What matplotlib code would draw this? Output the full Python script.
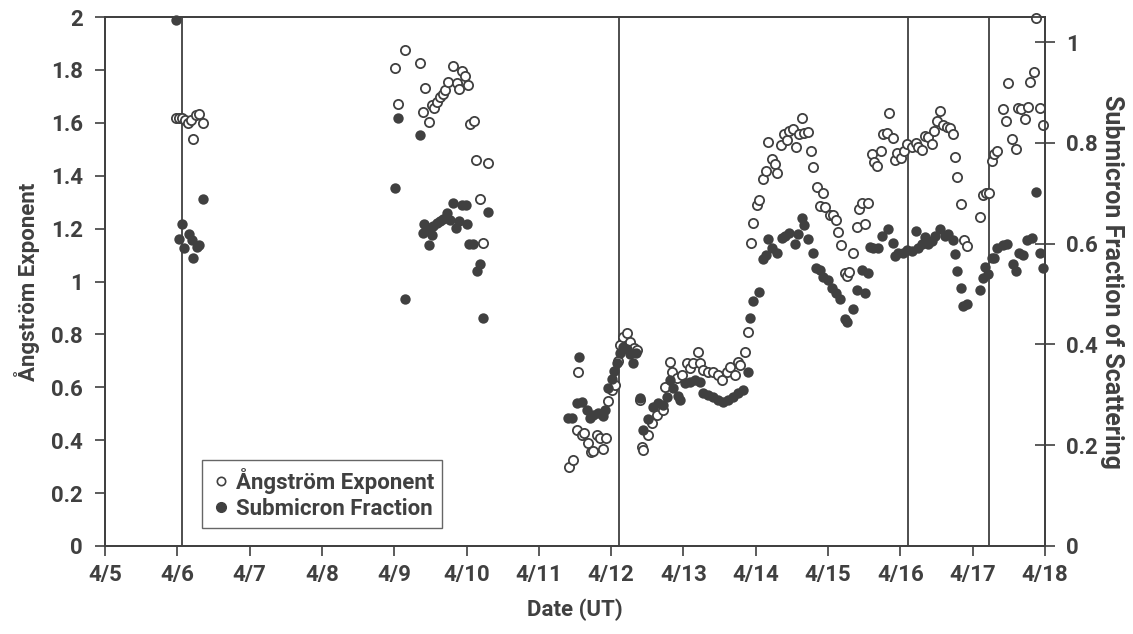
import matplotlib
matplotlib.use('Agg')
import matplotlib.pyplot as plt
from matplotlib.lines import Line2D

INK = '#404040'

# Angstrom exponent (left axis); time is day of April (UT)
ang_day = [5.98, 6.02, 6.06, 6.11, 6.15, 6.19, 6.22, 6.26, 6.30, 6.36,
           9.01, 9.05, 9.15, 9.36, 9.40, 9.43, 9.48, 9.52, 9.55, 9.59,
           9.63, 9.67, 9.70, 9.74, 9.81, 9.87, 9.90, 9.94, 9.98, 10.02,
           10.05, 10.10, 10.13, 10.19, 10.23, 10.30,
           11.42, 11.47, 11.53, 11.54, 11.60, 11.62, 11.68, 11.72, 11.75, 11.80,
           11.85, 11.89, 11.93, 11.96, 12.01, 12.05, 12.09, 12.12, 12.16, 12.22,
           12.26, 12.32, 12.36,
           12.40, 12.43, 12.44, 12.51, 12.56, 12.63, 12.72, 12.74, 12.81, 12.84,
           12.91, 12.98, 13.05, 13.09, 13.13, 13.20, 13.23, 13.27, 13.34, 13.41,
           13.48, 13.53, 13.60, 13.64, 13.71, 13.75, 13.78, 13.85, 13.89,
           13.93, 13.96, 14.02, 14.04, 14.10, 14.14, 14.17, 14.22, 14.27, 14.29,
           14.35, 14.39, 14.43, 14.46, 14.51, 14.56, 14.60, 14.64, 14.67, 14.72,
           14.76, 14.79, 14.85, 14.89, 14.93, 14.96, 15.03, 15.07, 15.11, 15.14,
           15.18, 15.23, 15.26, 15.29, 15.34, 15.40, 15.43, 15.47, 15.51, 15.55,
           15.61, 15.63, 15.68, 15.73, 15.76, 15.81, 15.84, 15.90, 15.93, 15.95,
           16.01, 16.05, 16.09, 16.16, 16.22, 16.24, 16.30, 16.34, 16.38, 16.44,
           16.46, 16.51, 16.55, 16.59, 16.64, 16.69, 16.73, 16.75, 16.78, 16.84,
           16.88, 16.92, 17.10, 17.14, 17.18, 17.23, 17.27, 17.29, 17.34, 17.42,
           17.46, 17.49, 17.54, 17.60, 17.63, 17.67, 17.72, 17.76, 17.79, 17.85,
           17.88, 17.93, 17.97]
ang_val = [1.62, 1.62, 1.62, 1.61, 1.60, 1.61, 1.54, 1.63, 1.635, 1.60,
           1.807, 1.671, 1.875, 1.826, 1.641, 1.732, 1.603, 1.667, 1.656, 1.679,
           1.698, 1.709, 1.724, 1.754, 1.815, 1.750, 1.728, 1.796, 1.777, 1.743,
           1.595, 1.607, 1.459, 1.312, 1.146, 1.448,
           0.299, 0.325, 0.439, 0.658, 0.420, 0.427, 0.390, 0.355, 0.359, 0.420,
           0.408, 0.367, 0.408, 0.548, 0.590, 0.610, 0.700, 0.760, 0.790, 0.805,
           0.770, 0.750, 0.740,
           0.552, 0.374, 0.363, 0.420, 0.465, 0.495, 0.514, 0.601, 0.696, 0.658,
           0.635, 0.646, 0.692, 0.673, 0.692, 0.733, 0.692, 0.665, 0.658, 0.658,
           0.646, 0.628, 0.658, 0.677, 0.646, 0.696, 0.684, 0.733, 0.809,
           1.146, 1.221, 1.289, 1.308, 1.388, 1.418, 1.527, 1.463, 1.444, 1.410,
           1.516, 1.558, 1.535, 1.569, 1.577, 1.508, 1.558, 1.618, 1.561, 1.565,
           1.493, 1.433, 1.357, 1.285, 1.335, 1.282, 1.251, 1.251, 1.232, 1.187,
           1.138, 1.032, 1.021, 1.036, 1.108, 1.206, 1.274, 1.297, 1.217, 1.297,
           1.482, 1.452, 1.437, 1.493, 1.558, 1.561, 1.637, 1.543, 1.459, 1.486,
           1.467, 1.493, 1.520, 1.508, 1.524, 1.508, 1.497, 1.550, 1.546, 1.520,
           1.569, 1.607, 1.645, 1.592, 1.584, 1.580, 1.558, 1.471, 1.395, 1.293,
           1.157, 1.134, 1.244, 1.327, 1.335, 1.335, 1.456, 1.482, 1.493, 1.652,
           1.607, 1.750, 1.539, 1.501, 1.656, 1.652, 1.614, 1.660, 1.754, 1.792,
           1.996, 1.656, 1.592]

# Submicron fraction of scattering (right axis)
sub_day = [5.98, 6.02, 6.06, 6.09, 6.16, 6.20, 6.22, 6.27, 6.30, 6.36,
           9.01, 9.05, 9.15, 9.36, 9.40, 9.41, 9.48, 9.49, 9.52, 9.53,
           9.59, 9.63, 9.67, 9.73, 9.77, 9.81, 9.85, 9.90, 9.94, 9.99,
           10.01, 10.03, 10.09, 10.14, 10.19, 10.23, 10.30,
           11.40, 11.46, 11.53, 11.56, 11.60, 11.67, 11.71, 11.75, 11.82, 11.89,
           11.91, 11.96, 12.01, 12.04, 12.08, 12.12, 12.16, 12.22, 12.26, 12.30,
           12.34,
           12.40, 12.44, 12.51, 12.58, 12.65, 12.72, 12.77, 12.81, 12.86, 12.92,
           12.95, 13.02, 13.09, 13.16, 13.23, 13.27, 13.34, 13.41, 13.48, 13.55,
           13.62, 13.68, 13.75, 13.82, 13.89,
           13.92, 13.96, 14.04, 14.10, 14.14, 14.17, 14.22, 14.29, 14.36, 14.40,
           14.46, 14.54, 14.58, 14.64, 14.67, 14.72, 14.79, 14.83, 14.89, 14.93,
           15.00, 15.05, 15.11, 15.17, 15.23, 15.26, 15.34, 15.40, 15.47, 15.51,
           15.55, 15.58, 15.62, 15.69, 15.75, 15.83, 15.90, 15.93, 15.97, 16.04,
           16.09, 16.16, 16.22, 16.24, 16.30, 16.34, 16.38, 16.44, 16.48, 16.55,
           16.62, 16.66, 16.73, 16.75, 16.78, 16.84, 16.87, 16.92, 17.10, 17.14,
           17.17, 17.21, 17.27, 17.29, 17.34, 17.42, 17.47, 17.56, 17.60, 17.64,
           17.70, 17.75, 17.82, 17.88, 17.93, 17.97]
sub_val = [1.045, 0.61, 0.64, 0.592, 0.62, 0.608, 0.572, 0.594, 0.598, 0.689,
           0.711, 0.849, 0.491, 0.816, 0.622, 0.640, 0.598, 0.632, 0.618, 0.636,
           0.642, 0.646, 0.650, 0.660, 0.648, 0.681, 0.632, 0.646, 0.677, 0.677,
           0.640, 0.600, 0.600, 0.545, 0.560, 0.453, 0.663,
           0.255, 0.255, 0.283, 0.376, 0.285, 0.269, 0.255, 0.261, 0.263, 0.259,
           0.269, 0.313, 0.331, 0.348, 0.364, 0.384, 0.394, 0.392, 0.382, 0.364,
           0.384,
           0.293, 0.230, 0.253, 0.275, 0.283, 0.279, 0.295, 0.329, 0.313, 0.297,
           0.289, 0.323, 0.325, 0.329, 0.325, 0.303, 0.299, 0.295, 0.289, 0.285,
           0.289, 0.295, 0.303, 0.309, 0.345,
           0.453, 0.487, 0.505, 0.570, 0.578, 0.610, 0.592, 0.582, 0.612, 0.616,
           0.622, 0.600, 0.620, 0.651, 0.638, 0.610, 0.582, 0.552, 0.547, 0.533,
           0.527, 0.513, 0.503, 0.491, 0.451, 0.444, 0.471, 0.509, 0.547, 0.503,
           0.541, 0.594, 0.592, 0.592, 0.616, 0.630, 0.602, 0.576, 0.582, 0.582,
           0.588, 0.586, 0.626, 0.592, 0.600, 0.614, 0.600, 0.606, 0.616, 0.630,
           0.616, 0.620, 0.608, 0.580, 0.545, 0.513, 0.477, 0.481, 0.509, 0.531,
           0.554, 0.539, 0.572, 0.572, 0.592, 0.598, 0.600, 0.560, 0.545, 0.582,
           0.578, 0.608, 0.612, 0.703, 0.582, 0.552]

# vertical marker lines
event_days = [6.065, 12.11, 16.11, 17.23]

day_ticks = list(range(5, 19))
day_labels = ['4/%d' % d for d in day_ticks]

FS = 16

plt.rcParams['font.family'] = ['Roboto', 'DejaVu Sans']
plt.rcParams['font.weight'] = 'bold'
plt.rcParams['font.size'] = FS

fig = plt.figure(figsize=(11.33, 6.34), dpi=100)
ax = fig.add_axes([105 / 1133, 88 / 634, 940 / 1133, 529 / 634])
ax2 = ax.twinx()

for d in event_days:
  ax.axvline(d, color=INK, linewidth=1.3, zorder=1)

ax.scatter(ang_day, ang_val, s=44, facecolors='white', edgecolors=INK,
           linewidths=1.3, zorder=3, clip_on=False)
ax2.scatter(sub_day, sub_val, s=56, color=INK, linewidths=0, zorder=3,
            clip_on=False)

ax.set_xlim(5, 18)
ax.set_ylim(0, 2)
ax2.set_ylim(0, 1.05)
ax.set_xticks(day_ticks)
ax.set_xticklabels(day_labels)
ax.set_yticks([0, 0.2, 0.4, 0.6, 0.8, 1.0, 1.2, 1.4, 1.6, 1.8, 2.0])
ax.set_yticklabels(['0', '0.2', '0.4', '0.6', '0.8', '1', '1.2', '1.4', '1.6', '1.8', '2'])
ax2.set_yticks([0, 0.2, 0.4, 0.6, 0.8, 1.0])
ax2.set_yticklabels(['0', '0.2', '0.4', '0.6', '0.8', '1'])

for a in (ax, ax2):
  for sp in a.spines.values():
    sp.set_color(INK)
    sp.set_linewidth(1.3)

ax.tick_params(axis='x', direction='out', length=7, width=1.2, color=INK,
               labelcolor=INK, pad=6, labelsize=FS)
ax.tick_params(axis='y', direction='out', length=7, width=1.2, color=INK,
               labelcolor=INK, pad=9, labelsize=FS)
ax2.tick_params(axis='y', direction='inout', length=14, width=1.2, color=INK,
                labelcolor=INK, pad=8, labelsize=FS)

ax.set_xlabel('Date (UT)', color=INK, fontsize=FS, fontweight='bold', labelpad=9)
ax.set_ylabel('Ångström Exponent', color=INK, fontsize=FS, fontweight='bold', labelpad=8)
ax2.set_ylabel('Submicron Fraction of Scattering', color=INK, fontsize=18,
               fontweight='bold', rotation=270, labelpad=19)

handles = [
  Line2D([], [], linestyle='none', marker='o', markersize=6,
         markerfacecolor='white', markeredgecolor=INK, markeredgewidth=1.2),
  Line2D([], [], linestyle='none', marker='o', markersize=7,
         markerfacecolor=INK, markeredgecolor=INK),
]
leg = ax2.legend(handles, ['Ångström Exponent', 'Submicron Fraction'],
                 loc='lower left', bbox_to_anchor=(0.103, 0.034),
                 borderaxespad=0, frameon=True, fancybox=False,
                 handletextpad=0.2, handlelength=1.0, borderpad=0.35,
                 labelspacing=0.2, prop={'weight': 'bold', 'size': FS})
leg.get_frame().set_edgecolor(INK)
leg.get_frame().set_linewidth(1.0)
for t in leg.get_texts():
  t.set_color(INK)

fig.savefig('out.png', dpi=100)
